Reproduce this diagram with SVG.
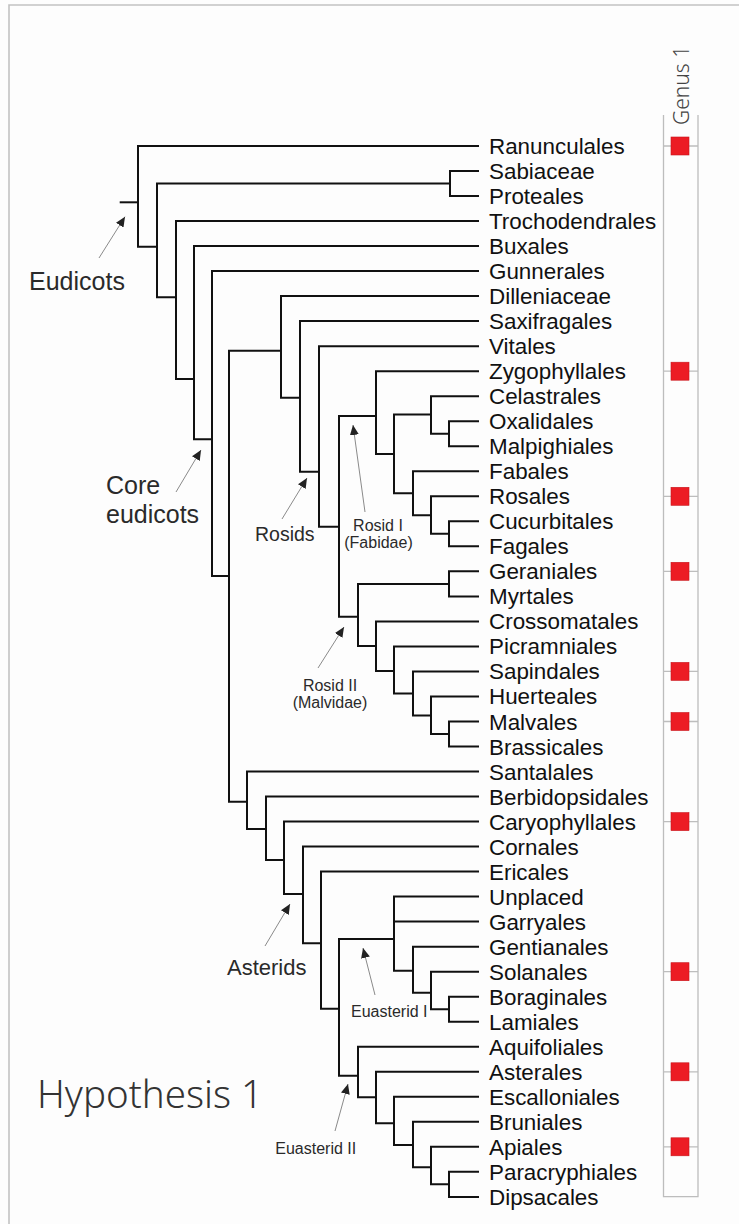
<svg xmlns="http://www.w3.org/2000/svg" width="739" height="1224" viewBox="0 0 739 1224">
<defs>
<marker id="ah" markerUnits="userSpaceOnUse" markerWidth="11" markerHeight="9" refX="10" refY="4.5" orient="auto">
<path d="M0,0 L10,4.5 L0,9 z" fill="#222"/>
</marker>
<style>
.tree{fill:none;stroke:#111;stroke-width:2;stroke-linejoin:miter;stroke-linecap:square}
.tx{font-family:"Liberation Sans",Arial,sans-serif;font-size:22.4px;fill:#111}
.ann{font-family:"Liberation Sans",Arial,sans-serif;fill:#2a2a2a}
.arr{stroke:#8a8a8a;stroke-width:1;fill:none;marker-end:url(#ah)}
.sq{fill:#ec1c24;stroke:#c9151b;stroke-width:0.6}
.tick{stroke:#bdbdbd;stroke-width:1.3}
</style>
</defs>
<rect x="0" y="0" width="739" height="1224" fill="#fdfdfd"/>
<path d="M9,1224 V5 H739" fill="none" stroke="#c2c2c2" stroke-width="1.6"/>

<g id="connectors" class="tree">
<path d="M120.7,202.3 H138"/>
<path d="M478,146 H138 V246.7 H157"/>
<path d="M450,183.5 H157 V297.3 H176"/>
<path d="M478,171 H450 V196 H478"/>
<path d="M478,221.1 H176 V379 H194"/>
<path d="M478,246.1 H194 V439.3 H212"/>
<path d="M478,271.1 H212 V576 H229"/>
<path d="M281,350.7 H229 V801.7 H247"/>
<path d="M478,296.1 H281 V397.7 H300"/>
<path d="M478,321.1 H300 V471.7 H319"/>
<path d="M478,346.2 H319 V526.7 H339"/>
<path d="M376,416 H339 V616.7 H358"/>
<path d="M478,371.2 H376 V454 H394"/>
<path d="M431,414.5 H394 V493.3 H413"/>
<path d="M478,396.2 H431 V433.7 H449"/>
<path d="M478,421.2 H449 V446.2 H478"/>
<path d="M478,471.3 H413 V515.3 H431"/>
<path d="M478,496.3 H431 V533.8 H449"/>
<path d="M478,521.3 H449 V546.3 H478"/>
<path d="M449,583.9 H358 V646 H376"/>
<path d="M478,571.3 H449 V596.4 H478"/>
<path d="M478,621.4 H376 V671 H394"/>
<path d="M478,646.4 H394 V693.5 H413"/>
<path d="M478,671.4 H413 V715.5 H431"/>
<path d="M478,696.4 H431 V734 H449"/>
<path d="M478,721.5 H449 V746.5 H478"/>
<path d="M478,771.5 H247 V829 H266"/>
<path d="M478,796.5 H266 V860 H284"/>
<path d="M478,821.6 H284 V894 H303"/>
<path d="M478,846.6 H303 V943.3 H321"/>
<path d="M478,871.6 H321 V1008.7 H339"/>
<path d="M394,939 H339 V1075.7 H358"/>
<path d="M478,896.6 H394 V970.7 H413"/>
<path d="M394,921.6 H478"/>
<path d="M478,946.7 H413 V992.7 H431"/>
<path d="M478,971.7 H431 V1009.2 H449"/>
<path d="M478,996.7 H449 V1021.7 H478"/>
<path d="M478,1046.7 H358 V1097.3 H376"/>
<path d="M478,1071.8 H376 V1123.3 H394"/>
<path d="M478,1096.8 H394 V1145 H413"/>
<path d="M478,1121.8 H413 V1167.3 H431"/>
<path d="M478,1146.8 H431 V1184.3 H449"/>
<path d="M478,1171.8 H449 V1196.9 H478"/>
</g>

<g id="annotation-arrows">
<line class="arr" x1="99" y1="258" x2="125" y2="216.7"/>
<line class="arr" x1="176" y1="492" x2="201" y2="450"/>
<line class="arr" x1="282" y1="519" x2="307" y2="478"/>
<line class="arr" x1="365" y1="512" x2="353" y2="425"/>
<line class="arr" x1="318" y1="668" x2="344" y2="627"/>
<line class="arr" x1="265" y1="946" x2="290" y2="904"/>
<line class="arr" x1="375" y1="995" x2="363" y2="948"/>
<line class="arr" x1="335" y1="1131" x2="348" y2="1084"/>
</g>

<g id="genus-column">
<path d="M663.5,115 V1196.7 H698 V115" fill="none" stroke="#bdbdbd" stroke-width="1.3"/>
<text x="689" y="125" transform="rotate(-90 689 125)" font-family="'Noto Sans','Open Sans',sans-serif" font-weight="300" font-size="21" fill="#444">Genus 1</text>
</g>

<g id="taxa" class="tx">
<g id="t-ranunculales"><text x="489" y="154">Ranunculales</text><line class="tick" x1="663.5" y1="146" x2="698" y2="146"/><rect class="sq" x="671" y="137" width="18" height="18"/></g>
<g id="t-sabiaceae"><text x="489" y="179">Sabiaceae</text></g>
<g id="t-proteales"><text x="489" y="204">Proteales</text></g>
<g id="t-trochodendrales"><text x="489" y="229.1">Trochodendrales</text></g>
<g id="t-buxales"><text x="489" y="254.1">Buxales</text></g>
<g id="t-gunnerales"><text x="489" y="279.1">Gunnerales</text></g>
<g id="t-dilleniaceae"><text x="489" y="304.1">Dilleniaceae</text></g>
<g id="t-saxifragales"><text x="489" y="329.1">Saxifragales</text></g>
<g id="t-vitales"><text x="489" y="354.2">Vitales</text></g>
<g id="t-zygophyllales"><text x="489" y="379.2">Zygophyllales</text><line class="tick" x1="663.5" y1="371.2" x2="698" y2="371.2"/><rect class="sq" x="671" y="362.2" width="18" height="18"/></g>
<g id="t-celastrales"><text x="489" y="404.2">Celastrales</text></g>
<g id="t-oxalidales"><text x="489" y="429.2">Oxalidales</text></g>
<g id="t-malpighiales"><text x="489" y="454.2">Malpighiales</text></g>
<g id="t-fabales"><text x="489" y="479.3">Fabales</text></g>
<g id="t-rosales"><text x="489" y="504.3">Rosales</text><line class="tick" x1="663.5" y1="496.3" x2="698" y2="496.3"/><rect class="sq" x="671" y="487.3" width="18" height="18"/></g>
<g id="t-cucurbitales"><text x="489" y="529.3">Cucurbitales</text></g>
<g id="t-fagales"><text x="489" y="554.3">Fagales</text></g>
<g id="t-geraniales"><text x="489" y="579.3">Geraniales</text><line class="tick" x1="663.5" y1="571.3" x2="698" y2="571.3"/><rect class="sq" x="671" y="562.3" width="18" height="18"/></g>
<g id="t-myrtales"><text x="489" y="604.4">Myrtales</text></g>
<g id="t-crossomatales"><text x="489" y="629.4">Crossomatales</text></g>
<g id="t-picramniales"><text x="489" y="654.4">Picramniales</text></g>
<g id="t-sapindales"><text x="489" y="679.4">Sapindales</text><line class="tick" x1="663.5" y1="671.4" x2="698" y2="671.4"/><rect class="sq" x="671" y="662.4" width="18" height="18"/></g>
<g id="t-huerteales"><text x="489" y="704.4">Huerteales</text></g>
<g id="t-malvales"><text x="489" y="729.5">Malvales</text><line class="tick" x1="663.5" y1="721.5" x2="698" y2="721.5"/><rect class="sq" x="671" y="712.5" width="18" height="18"/></g>
<g id="t-brassicales"><text x="489" y="754.5">Brassicales</text></g>
<g id="t-santalales"><text x="489" y="779.5">Santalales</text></g>
<g id="t-berbidopsidales"><text x="489" y="804.5">Berbidopsidales</text></g>
<g id="t-caryophyllales"><text x="489" y="829.6">Caryophyllales</text><line class="tick" x1="663.5" y1="821.6" x2="698" y2="821.6"/><rect class="sq" x="671" y="812.6" width="18" height="18"/></g>
<g id="t-cornales"><text x="489" y="854.6">Cornales</text></g>
<g id="t-ericales"><text x="489" y="879.6">Ericales</text></g>
<g id="t-unplaced"><text x="489" y="904.6">Unplaced</text></g>
<g id="t-garryales"><text x="489" y="929.6">Garryales</text></g>
<g id="t-gentianales"><text x="489" y="954.7">Gentianales</text></g>
<g id="t-solanales"><text x="489" y="979.7">Solanales</text><line class="tick" x1="663.5" y1="971.7" x2="698" y2="971.7"/><rect class="sq" x="671" y="962.7" width="18" height="18"/></g>
<g id="t-boraginales"><text x="489" y="1004.7">Boraginales</text></g>
<g id="t-lamiales"><text x="489" y="1029.7">Lamiales</text></g>
<g id="t-aquifoliales"><text x="489" y="1054.7">Aquifoliales</text></g>
<g id="t-asterales"><text x="489" y="1079.8">Asterales</text><line class="tick" x1="663.5" y1="1071.8" x2="698" y2="1071.8"/><rect class="sq" x="671" y="1062.8" width="18" height="18"/></g>
<g id="t-escalloniales"><text x="489" y="1104.8">Escalloniales</text></g>
<g id="t-bruniales"><text x="489" y="1129.8">Bruniales</text></g>
<g id="t-apiales"><text x="489" y="1154.8">Apiales</text><line class="tick" x1="663.5" y1="1146.8" x2="698" y2="1146.8"/><rect class="sq" x="671" y="1137.8" width="18" height="18"/></g>
<g id="t-paracryphiales"><text x="489" y="1179.8">Paracryphiales</text></g>
<g id="t-dipsacales"><text x="489" y="1204.9">Dipsacales</text></g>
</g>

<g id="clade-labels" class="ann">
<g id="l-eudicots"><text x="29" y="290" font-size="25">Eudicots</text></g>
<g id="l-core"><text x="106" y="494.3" font-size="25">Core</text><text x="106" y="523.3" font-size="25">eudicots</text></g>
<g id="l-rosids"><text x="255" y="540.7" font-size="19.5">Rosids</text></g>
<g id="l-rosid1" text-anchor="middle"><text x="378" y="530.5" font-size="16">Rosid I</text><text x="378.5" y="548" font-size="16">(Fabidae)</text></g>
<g id="l-rosid2" text-anchor="middle"><text x="330" y="690.7" font-size="16">Rosid II</text><text x="330" y="708" font-size="16">(Malvidae)</text></g>
<g id="l-asterids"><text x="227" y="975" font-size="22">Asterids</text></g>
<g id="l-euasterid1"><text x="351" y="1016.7" font-size="16">Euasterid I</text></g>
<g id="l-euasterid2"><text x="275.3" y="1154" font-size="16">Euasterid II</text></g>
</g>

<g id="title"><text x="37" y="1107.5" font-family="'Noto Sans','Open Sans',sans-serif" font-weight="300" font-size="38.5" fill="#333">Hypothesis 1</text></g>
</svg>
